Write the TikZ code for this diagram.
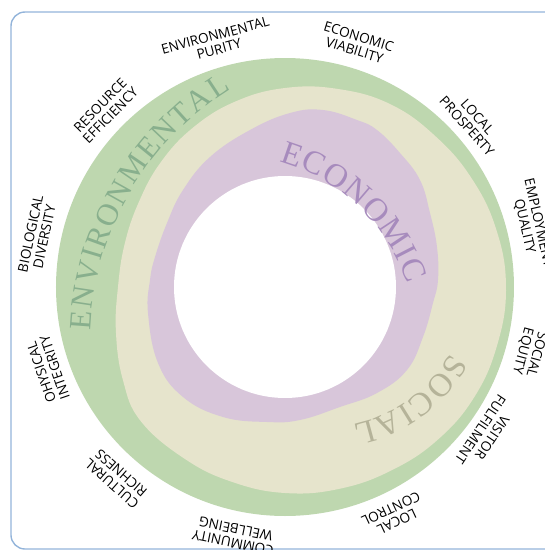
\documentclass[tikz,border=0pt]{standalone}
\usepackage{fontspec}
\setmainfont{Liberation Serif}
\newfontfamily\lblfont{Open Sans}
\usetikzlibrary{decorations.text}
\definecolor{envgreen}{HTML}{BED7AF}
\definecolor{socbeige}{HTML}{E6E4CC}
\definecolor{ecopurple}{HTML}{D8C6DA}
\definecolor{envtext}{HTML}{88AF8D}
\definecolor{ecotext}{HTML}{A78BBD}
\definecolor{soctext}{HTML}{B5B399}
\definecolor{frameblue}{HTML}{93B4DA}
\begin{document}
\begin{tikzpicture}[x=1pt,y=1pt,
  lbl/.style={font=\lblfont\fontsize{13.6}{14.2}\selectfont, align=center, inner sep=0pt, text=black},
  bigword/.style={decorate, decoration={text along path, text align=fit to path, text color=#1}}]
\useasboundingbox (-285,-263) rectangle (260,287);
\begin{scope}
\clip (-285,-263) rectangle (260,287);
\draw[frameblue, line width=1.4pt, rounded corners=14pt] (-274,275) rectangle (290,-262);
% environmental ring
\fill[envgreen] (0,0) circle[radius=229];
% social region
\fill[socbeige] plot[smooth cycle, tension=0.7] coordinates {
 (90:199) (75:205) (60:211) (45:213) (30:216) (15:219) (0:221) (-15:220) (-30:219)
 (-45:216) (-60:212) (-75:209) (-90:206) (-105:202) (-120:199) (-137:197)
 (-150:187) (-165:175) (180:167) (165:166) (150:169) (135:176) (120:184) (105:192)};
% economic region
\fill[ecopurple] plot[smooth cycle, tension=0.7] coordinates {
 (5,174) (38,177) (72,167) (92,157) (115,134) (135,107) (145,74) (152,40) (153,7)
 (148,-16) (138,-50) (122,-83) (92,-106) (55,-120) (15,-133) (-18,-135) (-62,-130)
 (-102,-110) (-127,-76) (-137,-26) (-135,7) (-130,30) (-118,64) (-102,97) (-75,130) (-35,157)};
\fill[white] (0,0) circle[radius=111];
% curved words
\begin{scope}[shift={(102,-55)}]
\path[bigword=envtext, decoration={text={|\fontsize{31}{31}\selectfont|ENVIRONMENTAL}}]
  (177.7:297) arc[start angle=177.7, end angle=121.7, radius=297];
\end{scope}
\begin{scope}[shift={(-58,-57)}]
\path[bigword=ecotext, decoration={text={|\fontsize{33}{33}\selectfont|ECONOMIC}}]
  (74.1:190) arc[start angle=74.1, end angle=18.5, radius=190];
\end{scope}
\begin{scope}[shift={(39.5,3.6)}]
\path[bigword=soctext, decoration={text={|\fontsize{33}{33}\selectfont|SOCIAL}}]
  (-28.9:144) arc[start angle=-28.9, end angle=-78.8, radius=144];
\end{scope}
% labels
\node[lbl, rotate=15]     (l1)  at (105.5:254) {ENVIRONMENTAL\\PURITY};
\node[lbl, rotate=-17]    (l2)  at (73.6:254)  {ECONOMIC\\VIABILITY};
\node[lbl, rotate=-48]    (l3)  at (41.5:250)  {LOCAL\\PROSPERTY};
\node[lbl, rotate=-77]    (l4)  at (14.2:254)  {EMPLOYMENT\\QUALITY};
\node[lbl, rotate=-105]   (l5)  at (-15:253)   {SOCIAL\\EQUITY};
\node[lbl, rotate=-124]   (l6)  at (-36:249)   {VISITOR\\FULFILMENT};
\node[lbl, rotate=-155]   (l7)  at (-64.5:253) {LOCAL\\CONTROL};
\node[lbl, rotate=168.5]  (l8)  at (-101.5:254) {COMMUNITY\\WELLBEING};
\node[lbl, rotate=138.6]  (l9)  at (-131.4:255) {CULTURAL\\RICHNESS};
\node[lbl, rotate=109]    (l10) at (-160.7:251) {OHYSICAL\\INTEGRITY};
\node[lbl, rotate=78]     (l11) at (168.2:253) {BIOLOGICAL\\DIVERSITY};
\node[lbl, rotate=45.5]   (l12) at (135.5:252) {RESOURCE\\EFFICIENCY};
\end{scope}
\end{tikzpicture}
\end{document}
